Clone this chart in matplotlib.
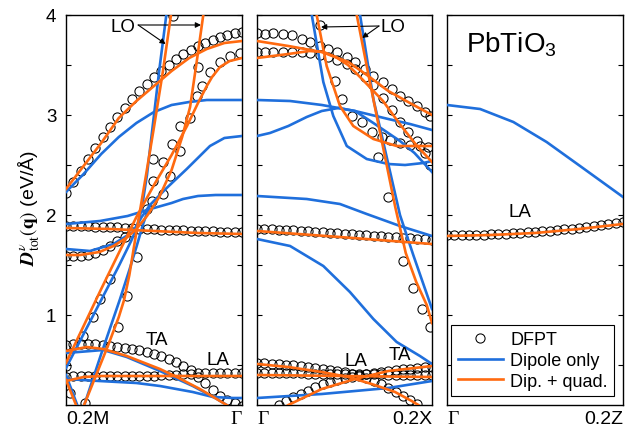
import numpy as np
import matplotlib.pyplot as plt
from matplotlib.lines import Line2D

plt.rcParams['font.family'] = ['Liberation Sans', 'DejaVu Sans']
plt.rcParams['mathtext.fontset'] = 'stix'

BLUE = '#1f6fdc'
ORANGE = '#ff6a10'

# q-points of the DFPT calculation along each path segment (0 = left edge, 1 = right edge)
q_grid = np.linspace(0, 1, 25)

# ---------------- panel 1 : 0.2M -> Gamma ----------------
p1_oA_x = [0, .1, .2, .3, .4, .5, .6, .7, .8, .9, 1]
p1_oA_y = [2.26, 2.49, 2.72, 2.97, 3.14, 3.29, 3.44, 3.57, 3.66, 3.72, 3.74]
p1_oFlat_x = [0, .25, .5, .75, 1]
p1_oFlat_y = [1.87, 1.86, 1.84, 1.82, 1.81]
p1_oLow_x = [0, .08, .19, .27, .35, .40, .46, .53, .60, .66, .705, .74, .78, .81]
p1_oLow_y = [1.60, 1.60, 1.63, 1.69, 1.78, 1.86, 1.99, 2.18, 2.45, 2.78, 3.08, 3.50, 4.0, 4.4]
p1_oC_x = [0, .1, .2, .3, .4, .5, .6, .6875, .75, .80, .83, .875, .93, 1]
p1_oC_y = [0.52, 0.89, 1.26, 1.62, 1.98, 2.30, 2.60, 2.89, 3.12, 3.29, 3.38, 3.48, 3.54, 3.57]
p1_oLO_x = [0, .08, .16, .24, .30, .33, .36, .40, .45, .50, .55, .59, .62]
p1_oLO_y = [0.35, 0.0, 0.35, 0.70, 0.98, 1.15, 1.40, 1.83, 2.35, 2.88, 3.43, 3.92, 4.3]
p1_oTA_x = [0, .118, .212, .345, .534, .629, .761, .875, .913, .96]
p1_oTA_y = [0.64, 0.68, 0.66, 0.59, 0.46, 0.38, 0.26, 0.14, 0.10, 0.05]
p1_oLA_x = [0, .1, .2, .5, 1]
p1_oLA_y = [0.34, 0.38, 0.39, 0.39, 0.39]

p1_bB1_x = [0, .1, .2, .3, .4, .5, .6, .7, .8, .9, 1]
p1_bB1_y = [2.23, 2.41, 2.61, 2.78, 2.92, 3.03, 3.10, 3.13, 3.15, 3.15, 3.15]
p1_bB3_x = [0, .193, .35, .48, .60, .665, .75, .85, 1]
p1_bB3_y = [1.91, 1.94, 1.99, 2.06, 2.12, 2.16, 2.19, 2.20, 2.20]
p1_bB2_x = [0, .136, .27, .38, .43, .477, .572, .686, .818, .90, 1]
p1_bB2_y = [1.66, 1.64, 1.71, 1.83, 1.98, 2.10, 2.27, 2.46, 2.69, 2.77, 2.79]
p1_bLO_x = [0, .1, .2, .3, .37, .40, .43, .46, .49, .53, .57, .59]
p1_bLO_y = [0.47, 0.81, 1.15, 1.49, 1.74, 1.86, 2.06, 2.40, 2.85, 3.45, 4.0, 4.3]
p1_bL2_x = [0, .085, .2, .307, .36, .40, .44, .477]
p1_bL2_y = [0.40, 0.0, 0.61, 1.16, 1.45, 1.68, 1.92, 2.10]
p1_bTA_x = [0, .212, .345, .534, .72, .858, .913, .96]
p1_bTA_y = [0.62, 0.65, 0.58, 0.44, 0.29, 0.16, 0.10, 0.05]
p1_bLA_x = [0, .19, .40, .534, .72, .835, .95, 1]
p1_bLA_y = [0.36, 0.34, 0.32, 0.29, 0.23, 0.18, 0.17, 0.17]

p1_dTop_y = [2.22, 2.33, 2.44, 2.56, 2.67, 2.78, 2.88, 2.98, 3.07, 3.16, 3.24, 3.31, 3.38,
             3.44, 3.50, 3.56, 3.61, 3.65, 3.69, 3.72, 3.75, 3.78, 3.80, 3.82, 3.83]
p1_dFlat_y = [1.89, 1.89, 1.89, 1.89, 1.88, 1.88, 1.88, 1.88, 1.87, 1.87, 1.86, 1.86, 1.86,
              1.85, 1.85, 1.85, 1.85, 1.84, 1.84, 1.84, 1.84, 1.83, 1.83, 1.83, 1.83]
p1_dLow_y = [1.59, 1.59, 1.59, 1.60, 1.62, 1.65, 1.69, 1.74, 1.78, 1.83]
p1_dTA_y = [0.70, 0.71, 0.71, 0.71, 0.71, 0.70, 0.69, 0.68, 0.67, 0.66, 0.65, 0.63, 0.61,
            0.59, 0.56, 0.53, 0.49, 0.45, 0.38, 0.32, 0.25, 0.19, 0.15, 0.12, 0.09]
p1_dLA_y = [0.38, 0.39, 0.39, 0.39, 0.39, 0.39, 0.39, 0.39, 0.39, 0.39, 0.39, 0.39, 0.39,
            0.40, 0.40, 0.40, 0.41, 0.41, 0.42, 0.42, 0.42, 0.42, 0.42, 0.42, 0.42]
p1_dMix_x = [0.0, .023, .108, .098, .155, .193, .25, .297, .345, .402, .458, .487, .496, .496,
             .553, .553, .591, .60, .648, .648, .705, .743, .771, .75, .818, .875, .932, .989, .61]
p1_dMix_y = [0.49, 0.22, 0.12, 0.79, 0.98, 1.16, 1.36, 0.88, 1.19, 1.58, 2.06, 2.14, 2.34, 2.56,
             2.21, 2.53, 2.39, 2.71, 2.64, 2.89, 2.97, 3.19, 3.29, 3.48, 3.43, 3.53, 3.59, 3.62, 3.99]

# ---------------- panel 2 : Gamma -> 0.2X ----------------
p2_oTop1_x = [0, .179, .37, .522, .636, .75, .884, 1]
p2_oTop1_y = [3.74, 3.69, 3.63, 3.53, 3.39, 3.24, 3.11, 3.0]
p2_oTop2_x = [0, .179, .30, .38, .45, .52, .60, .72, .82, .91, 1]
p2_oTop2_y = [3.57, 3.61, 3.64, 3.63, 3.58, 3.50, 3.36, 3.14, 2.90, 2.70, 2.53]
p2_oLO1_x = [.33, .341, .398, .474, .55, .665, .798, 1]
p2_oLO1_y = [4.2, 4.0, 3.49, 3.09, 2.89, 2.76, 2.69, 2.69]
p2_oLO2_x = [.56, .57, .627, .684, .741, .79, .85, .91, .97, 1]
p2_oLO2_y = [4.2, 4.0, 3.49, 2.99, 2.50, 2.08, 1.62, 1.33, 1.10, 0.92]
p2_oFlat_x = [0, .474, 1]
p2_oFlat_y = [1.84, 1.78, 1.71]
p2_oLA_x = [0, .179, .37, .522, .655, .789, .884, .922, .96]
p2_oLA_y = [0.51, 0.48, 0.43, 0.38, 0.31, 0.23, 0.14, 0.10, 0.05]
p2_oFlat2_x = [0, .5, 1]
p2_oFlat2_y = [0.40, 0.39, 0.38]
p2_oTA_x = [.10, .179, .37, .56, .75, 1]
p2_oTA_y = [0.0, 0.10, 0.26, 0.36, 0.44, 0.49]

p2_bTop_x = [0, .189, .371, .56, .75, .874, 1]
p2_bTop_y = [3.15, 3.14, 3.10, 3.04, 2.96, 2.91, 2.85]
p2_bHump_x = [0, .074, .179, .284, .37, .465, .56, .665, .817, .90, 1]
p2_bHump_y = [2.79, 2.82, 2.89, 2.98, 3.04, 3.07, 3.04, 2.92, 2.74, 2.62, 2.43]
p2_bLO1_x = [.30, .313, .379, .436, .513, .627, .75, .846, .95, 1]
p2_bLO1_y = [4.3, 4.0, 3.33, 2.99, 2.69, 2.56, 2.51, 2.50, 2.52, 2.54]
p2_bLO2_x = [.58, .589, .665, .745, .817, .893, 1]
p2_bLO2_y = [4.2, 4.0, 3.16, 2.55, 2.0, 1.6, 1.06]
p2_bMid_x = [0, .284, .474, .627, .817, 1]
p2_bMid_y = [2.19, 2.16, 2.11, 2.01, 1.89, 1.79]
p2_bS_x = [0, .189, .379, .531, .665, .798, .931, 1]
p2_bS_y = [1.76, 1.69, 1.49, 1.23, 0.96, 0.73, 0.59, 0.51]
p2_bLow_x = [0, .37, .75, 1]
p2_bLow_y = [0.17, 0.21, 0.27, 0.34]

p2_dTop_x = [0, .046, .093, .15, .198, .255, .303, .36, .407, .455, .513, .56, .617, .665,
             .722, .77, .817, .865, .913, .96, .989]
p2_dTop_y = [3.82, 3.81, 3.82, 3.81, 3.80, 3.76, 3.73, 3.69, 3.66, 3.63, 3.58, 3.53, 3.46, 3.39,
             3.33, 3.26, 3.19, 3.14, 3.09, 3.03, 2.99]
p2_dRow2_x = [0, .046, .093, .15, .198, .255, .303, .36, .407, .455, .513, .56, .617, .665,
              .722, .77, .817, .865, .913, .96, .99]
p2_dRow2_y = [3.63, 3.63, 3.63, 3.63, 3.63, 3.63, 3.62, 3.60, 3.58, 3.55, 3.51, 3.46, 3.38, 3.30,
              3.17, 3.05, 2.93, 2.83, 2.74, 2.62, 2.50]
p2_dLO_x = [.36, .446, .484, .541, .598, .655, .712, .76, .817, .874, .93, .98, .693, .75,
            .836, .893, .941, .989]
p2_dLO_y = [3.90, 3.34, 3.16, 2.99, 2.93, 2.83, 2.78, 2.75, 2.72, 2.70, 2.69, 2.68, 2.58, 2.18,
            1.54, 1.27, 1.06, 0.88]
p2_dFlat_y = [1.86, 1.86, 1.86, 1.85, 1.85, 1.85, 1.84, 1.84, 1.83, 1.83, 1.82, 1.82, 1.81,
              1.81, 1.80, 1.80, 1.79, 1.79, 1.78, 1.78, 1.77, 1.77, 1.76, 1.76, 1.75]
p2_dLA_y = [0.52, 0.52, 0.51, 0.51, 0.50, 0.50, 0.49, 0.48, 0.47, 0.46, 0.45, 0.44, 0.43,
            0.41, 0.39, 0.37, 0.34, 0.31, 0.27, 0.23, 0.19, 0.15, 0.11]
p2_dMid_y = [0.42, 0.42, 0.42, 0.42, 0.42, 0.42, 0.42, 0.41, 0.41, 0.41, 0.41, 0.41, 0.41,
             0.41, 0.41, 0.41, 0.41, 0.41, 0.40, 0.40, 0.40, 0.40, 0.40, 0.40, 0.40]
p2_dTA_y = [0.10, 0.14, 0.18, 0.21, 0.24, 0.28, 0.31, 0.33, 0.35, 0.37, 0.38, 0.40, 0.41,
            0.42, 0.43, 0.44, 0.45, 0.46, 0.46, 0.47, 0.48, 0.48]

# ---------------- panel 3 : Gamma -> 0.2Z ----------------
p3_b_x = [0, .188, .377, .566, .756, 1]
p3_b_y = [3.10, 3.06, 2.93, 2.73, 2.49, 2.18]
p3_o_x = [0, .25, .5, .75, 1]
p3_o_y = [1.79, 1.80, 1.82, 1.86, 1.91]
p3_d_y = [1.80, 1.80, 1.80, 1.80, 1.80, 1.80, 1.81, 1.81, 1.81, 1.82, 1.82, 1.83, 1.83,
          1.84, 1.84, 1.85, 1.86, 1.86, 1.87, 1.88, 1.89, 1.90, 1.91, 1.92, 1.93]


def draw(ax, dfpt, blue, orange):
    for x, y in dfpt:
        ax.plot(x, y, 'o', ms=6.6, mfc='none', mec='black', mew=0.75, zorder=2)
    for x, y in blue:
        ax.plot(x, y, color=BLUE, lw=1.9, zorder=3)
    for x, y in orange:
        ax.plot(x, y, color=ORANGE, lw=1.9, zorder=4)


fig = plt.figure(figsize=(6.33, 4.35), dpi=100)
ax1 = fig.add_axes([66 / 633, 29 / 435, 176 / 633, 390 / 435])
ax2 = fig.add_axes([257 / 633, 29 / 435, 175 / 633, 390 / 435])
ax3 = fig.add_axes([447 / 633, 29 / 435, 176 / 633, 390 / 435])

draw(ax1,
     [(q_grid, p1_dTop_y), (q_grid, p1_dFlat_y), (q_grid[:10], p1_dLow_y),
      (q_grid, p1_dTA_y), (q_grid, p1_dLA_y), (p1_dMix_x, p1_dMix_y)],
     [(p1_bB1_x, p1_bB1_y), (p1_bB3_x, p1_bB3_y), (p1_bB2_x, p1_bB2_y), (p1_bLO_x, p1_bLO_y),
      (p1_bL2_x, p1_bL2_y), (p1_bTA_x, p1_bTA_y), (p1_bLA_x, p1_bLA_y)],
     [(p1_oA_x, p1_oA_y), (p1_oFlat_x, p1_oFlat_y), (p1_oLow_x, p1_oLow_y), (p1_oC_x, p1_oC_y),
      (p1_oLO_x, p1_oLO_y), (p1_oTA_x, p1_oTA_y), (p1_oLA_x, p1_oLA_y)])

draw(ax2,
     [(p2_dTop_x, p2_dTop_y), (p2_dRow2_x, p2_dRow2_y), (p2_dLO_x, p2_dLO_y),
      (q_grid, p2_dFlat_y), (q_grid[:23], p2_dLA_y), (q_grid, p2_dMid_y), (q_grid[3:], p2_dTA_y)],
     [(p2_bTop_x, p2_bTop_y), (p2_bHump_x, p2_bHump_y), (p2_bLO1_x, p2_bLO1_y),
      (p2_bLO2_x, p2_bLO2_y), (p2_bMid_x, p2_bMid_y), (p2_bS_x, p2_bS_y), (p2_bLow_x, p2_bLow_y)],
     [(p2_oTop1_x, p2_oTop1_y), (p2_oTop2_x, p2_oTop2_y), (p2_oLO1_x, p2_oLO1_y),
      (p2_oLO2_x, p2_oLO2_y), (p2_oFlat_x, p2_oFlat_y), (p2_oLA_x, p2_oLA_y),
      (p2_oFlat2_x, p2_oFlat2_y), (p2_oTA_x, p2_oTA_y)])

draw(ax3, [(q_grid, p3_d_y)], [(p3_b_x, p3_b_y)], [(p3_o_x, p3_o_y)])

for ax in (ax1, ax2, ax3):
    ax.set_xlim(0, 1)
    ax.set_ylim(0.1, 4)
    ax.set_xticks([])
    ax.set_yticks([1, 2, 3, 4])
    ax.set_yticks([0.5, 1.5, 2.5, 3.5], minor=True)
    ax.tick_params(axis='y', which='both', direction='in', left=True, right=True,
                   length=3.8, width=0.8, labelsize=13.5, pad=7)
    for s in ax.spines.values():
        s.set_linewidth(1.0)
ax2.tick_params(axis='y', labelleft=False)
ax3.tick_params(axis='y', labelleft=False)

# path labels
lab = dict(fontsize=14, va='center')
ax1.text(0, -0.035, '0.2M', transform=ax1.transAxes, ha='left', **lab)
ax1.text(1, -0.035, 'Γ', transform=ax1.transAxes, ha='right', family='Liberation Serif', **lab)
ax2.text(0, -0.035, 'Γ', transform=ax2.transAxes, ha='left', family='Liberation Serif', **lab)
ax2.text(1, -0.035, '0.2X', transform=ax2.transAxes, ha='right', **lab)
ax3.text(0, -0.035, 'Γ', transform=ax3.transAxes, ha='left', family='Liberation Serif', **lab)
ax3.text(1, -0.035, '0.2Z', transform=ax3.transAxes, ha='right', **lab)

fig.text(29 / 633, 0.522, r'$\mathbfit{D}^{\nu}_{\rm tot}(\mathbf{q})$ (eV/Å)',
         rotation=90, ha='center', va='center', fontsize=14)

# branch labels
arw = dict(arrowstyle='-|>', lw=0.8, color='black', mutation_scale=8, shrinkA=0, shrinkB=0)
ax1.text(.321, 3.885, 'LO', ha='center', va='center', fontsize=13.5)
ax1.annotate('', xy=(.566, 3.71), xytext=(.41, 3.90), arrowprops=arw)
ax1.annotate('', xy=(.767, 3.90), xytext=(.41, 3.90), arrowprops=arw)
ax1.text(.515, 0.75, 'TA', ha='center', va='center', fontsize=13.5)
ax1.text(.864, 0.55, 'LA', ha='center', va='center', fontsize=13.5)

ax2.text(.777, 3.88, 'LO', ha='center', va='center', fontsize=13.5)
ax2.annotate('', xy=(.366, 3.88), xytext=(.697, 3.89), arrowprops=arw)
ax2.annotate('', xy=(.60, 3.77), xytext=(.697, 3.89), arrowprops=arw)
ax2.text(.566, 0.54, 'LA', ha='center', va='center', fontsize=13.5)
ax2.text(.817, 0.60, 'TA', ha='center', va='center', fontsize=13.5)

ax3.text(.415, 2.03, 'LA', ha='center', va='center', fontsize=13.5)
ax3.text(.365, 3.71, r'$\mathregular{PbTiO_3}$', ha='center', va='center', fontsize=20)

handles = [Line2D([], [], ls='none', marker='o', ms=6.6, mfc='none', mec='black', mew=0.75),
           Line2D([], [], color=BLUE, lw=1.9),
           Line2D([], [], color=ORANGE, lw=1.9)]
leg = ax3.legend(handles, ['DFPT', 'Dipole only', 'Dip. + quad.'], loc='lower right',
                 fontsize=13, frameon=True, fancybox=False, edgecolor='black', framealpha=1,
                 handlelength=2.5, handletextpad=0.4, labelspacing=0.2, borderpad=0.35,
                 borderaxespad=0.5)
leg.get_frame().set_linewidth(0.8)

fig.savefig('out.png', dpi=100)
